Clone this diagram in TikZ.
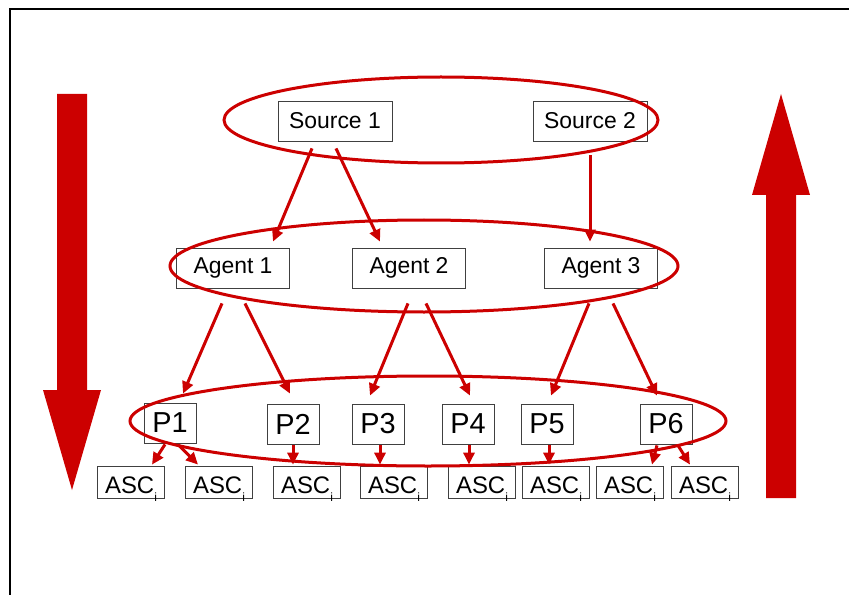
\documentclass[tikz,border=0pt]{standalone}
\usepackage{fontspec}
\setmainfont{Liberation Sans}
\usepackage{tikz}
\usetikzlibrary{calc,arrows.meta}
\definecolor{darkred}{HTML}{CC0000}

\begin{document}
\begin{tikzpicture}[x=1bp,y=-1bp,
  box/.style={draw=black!75, line width=0.8bp, inner sep=0pt, font=\fontsize{23}{26}\selectfont},
  srcbox/.style={box, minimum width=114bp, minimum height=40bp},
  pbox/.style={box, minimum width=52bp, minimum height=40bp, font=\fontsize{29}{32}\selectfont},
  ascbox/.style={box, minimum width=67bp, minimum height=32bp, text height=22bp, text depth=0pt,
    font=\fontsize{24}{26}\selectfont},
  ring/.style={draw=darkred, line width=3bp},
  flow/.style={draw=darkred, line width=3bp, -{Triangle[length=12bp,width=11bp]}},
  bigarrow/.style={fill=darkred}]
\useasboundingbox (0,0) rectangle (849,595);

% frame
\draw[line width=2bp] (10,595) -- (10,9) -- (849,9);

% big arrows
\fill[bigarrow] (57,94) -- (87,94) -- (87,390) -- (101,390) -- (72,490) -- (43,390) -- (57,390) -- cycle;
\fill[bigarrow] (766,498) -- (796,498) -- (796,195) -- (810,195) -- (781,94) -- (752,195) -- (766,195) -- cycle;

% Source nodes
\node[srcbox] (s1) at (335,121) {Source 1};
\node[srcbox] (s2) at (590,121) {Source 2};

% Agent nodes
\node[srcbox, minimum width=113bp] (a1) at (233,268) {Agent 1};
\node[srcbox, minimum width=113bp] (a2) at (409,268) {Agent 2};
\node[srcbox, minimum width=113bp] (a3) at (601,268) {Agent 3};

% P nodes
\node[pbox] (p1) at (170,423) {P1};
\node[pbox] (p2) at (293,424) {P2};
\node[pbox] (p3) at (378,424) {P3};
\node[pbox] (p4) at (468,424) {P4};
\node[pbox] (p5) at (547,424) {P5};
\node[pbox] (p6) at (666,424) {P6};

% ASC nodes
\foreach \i/\x in {1/131,2/219,3/307,4/394,5/482,6/556,7/630,8/705}
  \node[ascbox] (asc\i) at (\x,482) {ASC\smash{\raisebox{-0.35em}{\fontsize{12}{12}\selectfont i}}};

% ellipses round each level
\draw[ring] (441,120) ellipse [x radius=217, y radius=43];
\draw[ring] (424,266) ellipse [x radius=254, y radius=46];
\draw[ring] (428,421) ellipse [x radius=298, y radius=45];

% Arrows sources to agents
\draw[flow] ($(s1.south)+(-23,7)$) -- ($(a1.north)+(40,-6)$);
\draw[flow] ($(s1.south)+(1,7)$) -- ($(a2.north)+(-29,-6)$);
\draw[flow] ($(s2.south)+(0,14)$) -- ($(a3.north)+(-11,-6)$);

% Arrows agents to P
\draw[flow] ($(a1.south)+(-11,15)$) -- ($(p1.north)+(13,-9)$);
\draw[flow] ($(a1.south)+(12,15)$) -- ($(p2.north)+(-3,-10)$);
\draw[flow] ($(a2.south)+(-1,15)$) -- ($(p3.north)+(-8,-8)$);
\draw[flow] ($(a2.south)+(17,15)$) -- ($(p4.north)+(2,-8)$);
\draw[flow] ($(a3.south)+(-12,15)$) -- ($(p5.north)+(4,-8)$);
\draw[flow] ($(a3.south)+(12,15)$) -- ($(p6.north)+(-9,-8)$);

% Arrows P to ASC
\draw[flow] ($(p1.south)+(-5,1)$) -- ($(asc1.north)+(21,-1)$);
\draw[flow] ($(p1.south)+(8,1)$) -- ($(asc2.north)+(-21,-1)$);
\draw[flow] ($(p2.south)+(0,1)$) -- ($(asc3.north)+(-14,-1)$);
\draw[flow] ($(p3.south)+(2,1)$) -- ($(asc4.north)+(-14,-1)$);
\draw[flow] ($(p4.south)+(1,1)$) -- ($(asc5.north)+(-13,-1)$);
\draw[flow] ($(p5.south)+(2,1)$) -- ($(asc6.north)+(-7,-1)$);
\draw[flow] ($(p6.south)+(-9,1)$) -- ($(asc7.north)+(22,-1)$);
\draw[flow] ($(p6.south)+(12,1)$) -- ($(asc8.north)+(-15,-1)$);

\end{tikzpicture}
\end{document}
